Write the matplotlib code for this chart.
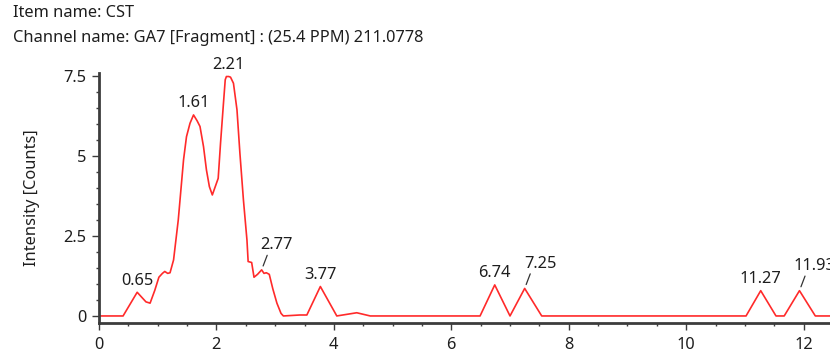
import numpy as np
import matplotlib
matplotlib.use("Agg")
import matplotlib.pyplot as plt
from matplotlib.ticker import MultipleLocator, FuncFormatter

plt.rcParams['font.family'] = ['Noto Sans', 'DejaVu Sans']

item_name = "CST"
channel_name = "GA7 [Fragment] : (25.4 PPM) 211.0778"

# Chromatogram trace: retention time [min] and intensity [counts]
rt = [0.00, 0.41, 0.65, 0.80, 0.87, 0.95, 1.02, 1.08, 1.12, 1.17, 1.21, 1.27,
      1.35, 1.44, 1.49, 1.55, 1.61, 1.67, 1.72, 1.78, 1.83, 1.88, 1.93, 1.98,
      2.03, 2.07, 2.12, 2.15, 2.17, 2.21, 2.24, 2.29, 2.35, 2.40, 2.46, 2.52,
      2.54, 2.60, 2.64, 2.70, 2.77, 2.81, 2.85, 2.90, 2.96, 3.03, 3.10, 3.14,
      3.42, 3.54, 3.77, 4.05, 4.39, 4.62, 6.49, 6.74, 7.00, 7.25, 7.54,
      11.02, 11.27, 11.53, 11.67, 11.93, 12.20, 12.60]
intensity = [0.00, 0.00, 0.74, 0.44, 0.40, 0.80, 1.21, 1.33, 1.39, 1.33, 1.35, 1.75,
             3.00, 4.88, 5.60, 6.02, 6.28, 6.10, 5.92, 5.29, 4.56, 4.04, 3.78, 4.04,
             4.30, 5.40, 6.65, 7.38, 7.48, 7.48, 7.46, 7.27, 6.44, 5.08, 3.62, 2.37,
             1.70, 1.67, 1.21, 1.30, 1.44, 1.33, 1.35, 1.30, 0.85, 0.40, 0.08, 0.00,
             0.03, 0.03, 0.92, 0.00, 0.10, 0.00, 0.00, 0.97, 0.00, 0.86, 0.00,
             0.00, 0.79, 0.00, 0.00, 0.79, 0.00, 0.00]

# Labelled peak apexes
peak_rt = [0.65, 1.61, 2.21, 2.77, 3.77, 6.74, 7.25, 11.27, 11.93]
peak_leader = [False, False, False, True, False, False, True, False, True]

FS = 11.8

fig = plt.figure(figsize=(8.30, 3.56), dpi=100)
ax = fig.add_axes([99 / 830, 33 / 356, 1 - 99 / 830, 250 / 356])

ax.plot(rt, intensity, color='#ff2a2a', lw=1.2, solid_joinstyle='round')

ax.set_xlim(0, 12.45)
ax.set_ylim(-0.22, 7.59)

text_col = '#1e1e1e'
spine_col = '#3c3c3c'

for key in ('top', 'right'):
    ax.spines[key].set_visible(False)
for key in ('left', 'bottom'):
    ax.spines[key].set_color(spine_col)
    ax.spines[key].set_linewidth(2.0)

ax.xaxis.set_major_locator(MultipleLocator(2))
ax.xaxis.set_minor_locator(MultipleLocator(0.5))
ax.yaxis.set_major_locator(MultipleLocator(2.5))
ax.yaxis.set_minor_locator(MultipleLocator(0.5))
ax.yaxis.set_major_formatter(FuncFormatter(lambda v, p: f"{v:g}"))
ax.tick_params(which='major', length=5, width=1.0, color=spine_col,
               labelsize=FS, labelcolor=text_col, pad=4)
ax.tick_params(axis='x', which='major', pad=5)
ax.tick_params(which='minor', length=2.5, width=1.0, color=spine_col)

ax.set_ylabel("Intensity [Counts]", fontsize=FS, color=text_col, labelpad=17)

for x, lead in zip(peak_rt, peak_leader):
    y = float(np.interp(x, rt, intensity))
    label = f"{x:.2f}"
    if lead:
        ax.annotate('', xy=(x, y), xytext=(4.0, 10.5), textcoords='offset points',
                    arrowprops=dict(arrowstyle='-', color='#333333', lw=0.9,
                                    shrinkA=0, shrinkB=3))
        ax.annotate(label, xy=(x, y), xytext=(11, 12), textcoords='offset points',
                    ha='center', va='bottom', fontsize=FS, color=text_col,
                    annotation_clip=False)
    else:
        ax.annotate(label, xy=(x, y), xytext=(0, 2.5), textcoords='offset points',
                    ha='center', va='bottom', fontsize=FS, color=text_col,
                    annotation_clip=False)

fig.text(13 / 830, 1 - 13 / 356, f"Item name: {item_name}", fontsize=FS,
         color=text_col, va='center', ha='left')
fig.text(13 / 830, 1 - 38 / 356, f"Channel name: {channel_name}", fontsize=FS,
         color=text_col, va='center', ha='left')

fig.savefig("out.png", dpi=100)
